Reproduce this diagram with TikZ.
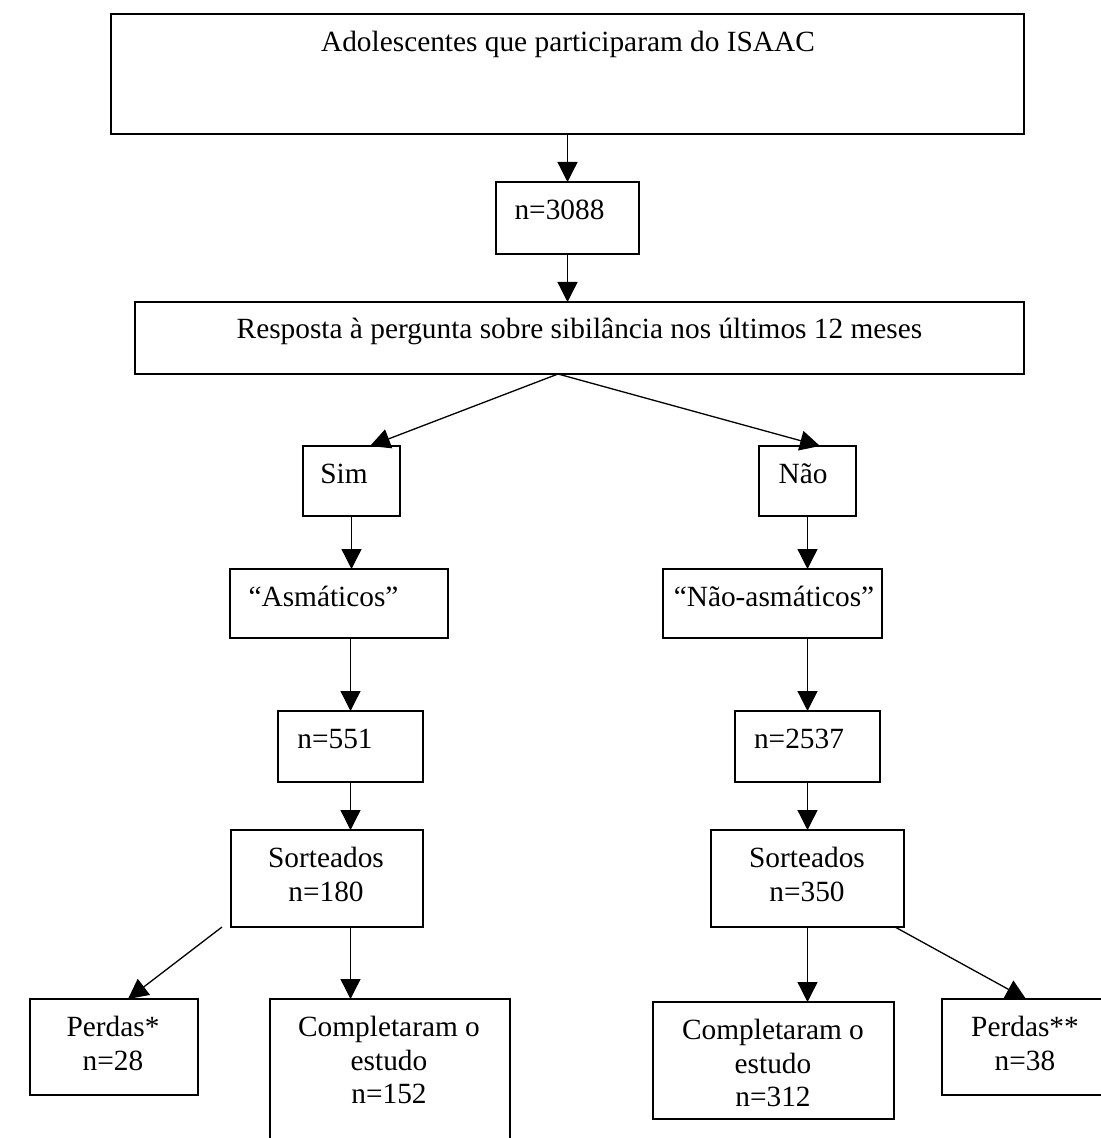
\documentclass[tikz,border=0pt]{standalone}
\usepackage{fontspec}
\setmainfont{Liberation Serif}
\usetikzlibrary{arrows.meta}
\begin{document}
\begin{tikzpicture}[x=0.5pt,y=-0.5pt,
  box/.style={draw=black, line width=0.75pt, inner sep=0pt, outer sep=0pt},
  txt/.style={inner sep=0pt, outer sep=0pt, font=\fontsize{14.67pt}{16.75pt}\selectfont, align=center, anchor=base},
  arr/.style={-{Triangle[length=10pt,width=10pt]}, line width=0.65pt}]
\useasboundingbox (0,0) rectangle (1100,1138);
\fill[white] (0,0) rectangle (1100,1138);
% boxes
\node[box, minimum width=456.5pt, minimum height=60pt] (top) at (567.5,74) {};
\node[box, minimum width=71.5pt, minimum height=36pt] (n3088) at (567.5,218) {};
\node[box, minimum width=444.5pt, minimum height=36pt] (resp) at (579.5,338) {};
\node[box, minimum width=48.5pt, minimum height=35pt] (sim) at (351.5,481) {};
\node[box, minimum width=48.5pt, minimum height=35pt] (nao) at (807.5,481) {};
\node[box, minimum width=109pt, minimum height=34.5pt] (asm) at (339,603.5) {};
\node[box, minimum width=109.5pt, minimum height=34.5pt] (naoasm) at (772.5,603.5) {};
\node[box, minimum width=72.5pt, minimum height=35.5pt] (n551) at (350.5,746.5) {};
\node[box, minimum width=72.5pt, minimum height=35.5pt] (n2537) at (807.5,746.5) {};
\node[box, minimum width=96pt, minimum height=48.5pt] (sort180) at (327,878.5) {};
\node[box, minimum width=96.5pt, minimum height=48.5pt] (sort350) at (807.5,878.5) {};
\node[box, minimum width=84pt, minimum height=48pt] (perdas1) at (114,1047) {};
\node[box, minimum width=120pt, minimum height=80.5pt] (comp152) at (390,1079.5) {};
\node[box, minimum width=120.5pt, minimum height=58.5pt] (comp312) at (773.5,1060.5) {};
\node[box, minimum width=81.5pt, minimum height=48pt] (perdas2) at (1023.5,1047) {};
% texts
\node[txt] (ttop) at (568,51.5) {Adolescentes que participaram do ISAAC};
\node[txt] (t3088) at (559.5,219.5) {n=3088};
\node[txt] (tresp) at (579.5,339) {Resposta à pergunta sobre sibilância nos últimos 12 meses};
\node[txt] (tsim) at (344,483.5) {Sim};
\node[txt] (tnao) at (803,483.5) {Não};
\node[txt] (tasm) at (323.5,606.5) {“Asmáticos”};
\node[txt] (tnaoasm) at (774,606.5) {“Não-asmáticos”};
\node[txt] (t551) at (335,748.5) {n=551};
\node[txt] (t2537) at (799,748.5) {n=2537};
\node[txt] (tsort180) at (326,901) {Sorteados\\n=180};
\node[txt] (tsort350) at (807,901) {Sorteados\\n=350};
\node[txt] (tperdas1) at (113,1070) {Perdas*\\n=28};
\node[txt] (tcomp152) at (389,1103.7) {Completaram o\\estudo\\n=152};
\node[txt] (tcomp312) at (773,1106.5) {Completaram o\\estudo\\n=312};
\node[txt] (tperdas2) at (1025,1070) {Perdas**\\n=38};
% connectors
\draw[arr] (top.south) -- (n3088.north);
\draw[arr] (n3088.south) -- (n3088.south |- resp.north);
\coordinate (apex) at ([xshift=-10.75pt]resp.south);
\draw[arr] (apex) -- ([xshift=9.25pt]sim.north);
\draw[arr] (apex) -- ([xshift=6.25pt]nao.north);
\draw[arr] (sim.south) -- (sim.south |- asm.north);
\draw[arr] (nao.south) -- (nao.south |- naoasm.north);
\draw[arr] (n551.north |- asm.south) -- (n551.north);
\draw[arr] (n2537.north |- naoasm.south) -- (n2537.north);
\draw[arr] (n551.south) -- (n551.south |- sort180.north);
\draw[arr] (n2537.south) -- (sort350.north);
\draw[arr] ([xshift=-4.5pt]sort180.south west) -- ([xshift=7pt]perdas1.north);
\draw[arr] (n551.south |- sort180.south) -- (n551.south |- comp152.north);
\draw[arr] (sort350.south) -- (sort350.south |- comp312.north);
\draw[arr] ([xshift=-4.5pt]sort350.south east) -- ([xshift=1.25pt]perdas2.north);
\end{tikzpicture}
\end{document}
